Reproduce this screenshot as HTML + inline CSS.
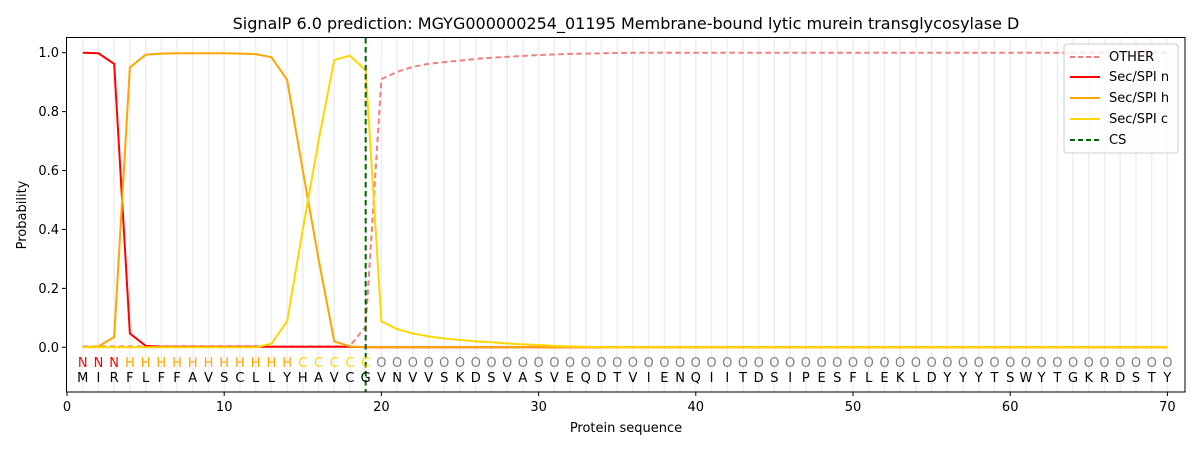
<!DOCTYPE html>
<html><head><meta charset="utf-8"><style>body{margin:0;background:#fff}svg{display:block}text{font-family:"DejaVu Sans","Liberation Sans",sans-serif}</style></head>
<body>
<svg id="s" width="1200" height="450" xmlns="http://www.w3.org/2000/svg">
<rect width="1200" height="450" fill="#fff"/>
<text x="626" y="29" font-size="16" text-anchor="middle">SignalP 6.0 prediction: MGYG000000254_01195 Membrane-bound lytic murein transglycosylase D</text>
<g id="g"></g>
<rect x="66.5" y="37.5" width="1118.5" height="354.5" fill="none" stroke="#000" stroke-width="1"/>
<text x="626" y="432" font-size="13" text-anchor="middle">Protein sequence</text>
<text transform="translate(26,215) rotate(-90)" font-size="13" text-anchor="middle">Probability</text>
<g font-size="13">
<rect x="1064" y="44" width="114" height="109" fill="#fff" fill-opacity="0.8" stroke="#ccc" rx="3"/>
<line x1="1070" y1="57" x2="1100" y2="57" stroke="#f08080" stroke-width="2" stroke-dasharray="5,3"/><text x="1109" y="61">OTHER</text>
<line x1="1070" y1="77" x2="1100" y2="77" stroke="#ff0000" stroke-width="2"/><text x="1109" y="81">Sec/SPI n</text>
<line x1="1070" y1="98" x2="1100" y2="98" stroke="#ffa500" stroke-width="2"/><text x="1109" y="102">Sec/SPI h</text>
<line x1="1070" y1="119" x2="1100" y2="119" stroke="#ffd700" stroke-width="2"/><text x="1109" y="123">Sec/SPI c</text>
<line x1="1070" y1="140" x2="1100" y2="140" stroke="#006400" stroke-width="2" stroke-dasharray="5,3"/><text x="1109" y="144">CS</text>
</g>
</svg>
<script>
const X=i=>67+i*15.72, Y=v=>347.3-v*294.6;
const seq="MIRFLFFAVSCLLYHAVCGVNVVSKDSVASVEQDTVIENQIITDSIPESFLEKLDYYYTSWYTGKRDSTY";
let h='';
for(let i=1;i<=70;i++)h+=`<line x1="${X(i)}" y1="38" x2="${X(i)}" y2="392" stroke="#eee" stroke-width="1.5"/>`;
for(let i=0;i<=70;i+=10)h+=`<line x1="${X(i)}" y1="392" x2="${X(i)}" y2="396" stroke="#000"/><text x="${X(i)}" y="411" font-size="13" text-anchor="middle">${i}</text>`;
for(let k=0;k<=5;k++){const v=k/5;h+=`<line x1="62" y1="${Y(v)}" x2="66.5" y2="${Y(v)}" stroke="#000"/><text x="59" y="${Y(v)+4.5}" font-size="13" text-anchor="end">${v.toFixed(1)}</text>`;}
const n=[1,.998,.962,.047,.005],hh=[0,.003,.035,.95,.993,.997,.998,.998,.998,.998,.997,.995,.985,.908,.6,.3,.02,.003],
c=[0,0,0,0,0,0,0,0,0,0,0,0,.012,.088,.4,.7,.975,.99,.94,.088,.062,.047,.037,.03,.025,.02,.017,.013,.01,.008,.005,.003,.002],
o=[.003,.003,.003,.003,.003,.003,.003,.003,.003,.003,.003,.003,.003,.003,.003,.003,.003,.005,.07,.91,.935,.952,.962,.968,.973,.979,.983,.986,.989,.992,.994,.996,.997,.998,.999];
function pl(a,def,col,dash){let p=[];for(let i=1;i<=70;i++){let v=i<=a.length?a[i-1]:def;p.push(X(i)+','+Y(v));}return `<polyline points="${p.join(' ')}" fill="none" stroke="${col}" stroke-width="2"${dash?' stroke-dasharray="5.5,3.5"':''}/>`;}
const n2=n.concat(Array(13).fill(.002));
h+=pl(o,1,'#f08080',1)+pl(n2,0,'#ff0000')+pl(hh,0,'#ffa500')+pl(c,0,'#ffd700');
h+=`<line x1="${X(19)}" y1="38" x2="${X(19)}" y2="392" stroke="#006400" stroke-width="2" stroke-dasharray="5.5,3.5"/>`;
for(let i=1;i<=70;i++){let L,col;if(i<=3){L='N';col='#ff0000'}else if(i<=14){L='H';col='#ffa500'}else if(i<=19){L='C';col='#ffd700'}else{L='O';col='#808080'}
h+=`<text x="${X(i)}" y="367" font-size="13" text-anchor="middle" fill="${col}">${L}</text><text x="${X(i)}" y="382" font-size="13" text-anchor="middle">${seq[i-1]}</text>`;}
document.getElementById('g').innerHTML=h;
</script>
</body></html>
